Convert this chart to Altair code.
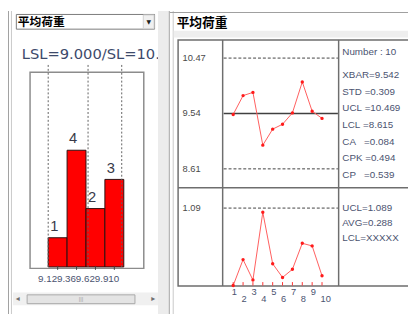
import altair as alt
import pandas as pd

# ---------------- data ----------------
panel_title = "平均荷重"
hist_title = "LSL=9.000/SL=10."
hist_bin_edges = [9.000, 9.257, 9.514, 9.771, 10.028]
hist_counts = [1, 4, 2, 3]
hist_tick_labels = ["9.12", "9.36", "9.62", "9.910"]
spec_lines = [9.000, 9.542, 10.000]          # LSL, XBAR, USL

samples = list(range(1, 11))
xbar_values = [9.526, 9.841, 9.895, 9.012, 9.280, 9.362, 9.552, 10.070, 9.580, 9.460]
r_values = [0.0, 0.365, 0.077, 1.030, 0.306, 0.114, 0.228, 0.594, 0.557, 0.137]
xbar_ucl, xbar_cl, xbar_lcl = 10.469, 9.542, 8.615
xbar_axis_values = [10.469, 9.542, 8.615]
xbar_axis_labels = ["10.47", "9.54", "8.61"]
r_ucl = 1.089
r_axis_label = "1.09"

stats_header = "Number : 10"
xbar_stats = ["XBAR=9.542", "STD =0.309", "UCL =10.469", "LCL =8.615",
              "CA   =0.084", "CPK =0.494", "CP   =0.539"]
r_stats = ["UCL=1.089", "AVG=0.288", "LCL=XXXXX"]

# ---------------- layout helpers ----------------
OX, OY = 8, 8
W, H = 408, 309


def px(x):
    return x - OX


def py(y):
    return y - OY


def lin(domain, rng):
    return alt.Scale(domain=domain, range=rng, nice=False, zero=False)


X_HIST = lin([9.0, 10.0], [px(49), px(124)])
Y_HIST = lin([0, 4], [py(269), py(150)])
X_RUN = lin([1, 10], [px(237.7), px(328.3)])
Y_XBAR = lin([xbar_lcl, xbar_ucl], [py(169), py(56)])
Y_R = lin([0, r_ucl], [py(288), py(209)])

TXT = "#4b5370"
SANS = "Liberation Sans"


def rect_layer(rows):
    df = pd.DataFrame(rows, columns=["x", "x2", "y", "y2", "fill", "stroke", "sw"])
    df["x"] = df["x"] - OX
    df["x2"] = df["x2"] - OX
    df["y"] = df["y"] - OY
    df["y2"] = df["y2"] - OY
    return alt.Chart(df).mark_rect().encode(
        x=alt.X("x:Q", scale=None, axis=None), x2="x2:Q",
        y=alt.Y("y:Q", scale=None, axis=None), y2="y2:Q",
        fill=alt.Fill("fill:N", scale=None, legend=None),
        stroke=alt.Stroke("stroke:N", scale=None, legend=None),
        strokeWidth=alt.StrokeWidth("sw:Q", scale=None, legend=None),
    )


def text_at(text, x, y, size, color="#000000", weight="normal", font=SANS,
            align="left", baseline="middle"):
    return alt.Chart(pd.DataFrame({"t": [text]})).mark_text(
        fontSize=size, color=color, fontWeight=weight, font=font,
        align=align, baseline=baseline,
    ).encode(x=alt.value(px(x)), y=alt.value(py(y)), text="t:N")


T = "transparent"
chrome_back = rect_layer([
    # left panel frame
    (8, 9, 8, 317, "#a0a0a0", T, 0),
    (11, 12, 8, 317, "#c8c8c8", T, 0),
    # dropdown
    (16.5, 157.5, 11.5, 26.5, "white", "#7a7a7a", 1),
    (146, 157, 12, 26, "#f0f0f0", "#d0d0d0", 1),
    # histogram box
    (30.5, 146.5, 70.5, 270.5, "white", "#8c8c8c", 1.5),
    # scrollbar
    (13, 161, 295, 308, "#f0f0f0", T, 0),
    (27.5, 137.5, 297.5, 306.5, "#e4e4e4", "#a8a8a8", 1),
])

chrome_front = rect_layer([
    (161, 172, 8, 317, "#ececec", T, 0),
    (172, 173, 8, 317, "#a0a0a0", T, 0),
    (176, 177, 8, 317, "#c8c8c8", T, 0),
    (173, 416, 9, 10, "#a0a0a0", T, 0),
    (177, 416, 28, 35, "#eeeeee", T, 0),
    # right box
    (181.5, 420, 37.5, 288.5, "white", "#6e6e6e", 1.5),
    (226.2, 227.7, 37.5, 288.5, "#6e6e6e", T, 0),
    (344.5, 346, 37.5, 288.5, "#6e6e6e", T, 0),
    (181.5, 416, 187.6, 189.1, "#6e6e6e", T, 0),
])

# ---------------- histogram ----------------
hist_df = pd.DataFrame({
    "start": hist_bin_edges[:-1],
    "end": hist_bin_edges[1:],
    "count": hist_counts,
    "label": hist_tick_labels,
})
hist_df["base"] = 0
hist_df["mid"] = (hist_df["start"] + hist_df["end"]) / 2

bars = alt.Chart(hist_df).mark_rect(fill="#ff0000", stroke="#2a1010", strokeWidth=1).encode(
    x=alt.X("start:Q", scale=X_HIST, axis=None), x2="end:Q",
    y=alt.Y("count:Q", scale=Y_HIST, axis=None), y2="base:Q",
)
bar_labels = alt.Chart(hist_df).mark_text(
    align="left", baseline="alphabetic", dx=2, dy=-7, fontSize=15,
    color="#383a48", font=SANS,
).encode(
    x=alt.X("start:Q", scale=X_HIST, axis=None),
    y=alt.Y("count:Q", scale=Y_HIST, axis=None),
    text="count:Q",
)
spec_df = pd.DataFrame({"v": spec_lines})
spec_rules = alt.Chart(spec_df).mark_rule(color="#606060", strokeDash=[2, 2], strokeWidth=1).encode(
    x=alt.X("v:Q", scale=X_HIST, axis=None),
    y=alt.value(py(63)), y2=alt.value(py(270)),
)
hist_ticks = alt.Chart(hist_df).mark_rule(color="#404040").encode(
    x=alt.X("mid:Q", scale=X_HIST, axis=None),
    y=alt.value(py(268)), y2=alt.value(py(272)),
)
hist_tick_text = alt.Chart(hist_df).mark_text(
    align="left", baseline="middle", dx=-20, fontSize=10, color=TXT, font=SANS,
).encode(
    x=alt.X("mid:Q", scale=X_HIST, axis=None),
    y=alt.value(py(281.5)), text="label:N",
)

# ---------------- control charts ----------------
run_df = pd.DataFrame({"sample": samples, "xbar": xbar_values, "r": r_values})
run_df["odd"] = run_df["sample"] % 2

lim_df = pd.DataFrame({"v": [xbar_ucl, xbar_lcl]})
xbar_limits = alt.Chart(lim_df).mark_rule(color="#404040", strokeDash=[3, 2]).encode(
    y=alt.Y("v:Q", scale=Y_XBAR, axis=None),
    x=alt.value(px(228)), x2=alt.value(px(344.5)),
)
xbar_center = alt.Chart(pd.DataFrame({"v": [xbar_cl]})).mark_rule(color="#404040", strokeWidth=1.5).encode(
    y=alt.Y("v:Q", scale=Y_XBAR, axis=None),
    x=alt.value(px(228)), x2=alt.value(px(344.5)),
)
xbar_line = alt.Chart(run_df).mark_line(color="#ff5c5c", strokeWidth=1).encode(
    x=alt.X("sample:Q", scale=X_RUN, axis=None),
    y=alt.Y("xbar:Q", scale=Y_XBAR, axis=None),
)
xbar_pts = alt.Chart(run_df).mark_circle(size=12, color="#ff1a1a", opacity=1).encode(
    x=alt.X("sample:Q", scale=X_RUN, axis=None),
    y=alt.Y("xbar:Q", scale=Y_XBAR, axis=None),
)
xbar_axis = alt.Chart(pd.DataFrame({"v": xbar_axis_values, "t": xbar_axis_labels})).mark_text(
    align="left", baseline="middle", fontSize=9.5, color="#4a4a4a", font=SANS,
).encode(
    y=alt.Y("v:Q", scale=Y_XBAR, axis=None),
    x=alt.value(px(186)), text="t:N",
)

r_limit = alt.Chart(pd.DataFrame({"v": [r_ucl]})).mark_rule(color="#404040", strokeDash=[3, 2]).encode(
    y=alt.Y("v:Q", scale=Y_R, axis=None),
    x=alt.value(px(228)), x2=alt.value(px(344.5)),
)
r_line = alt.Chart(run_df).mark_line(color="#ff5c5c", strokeWidth=1).encode(
    x=alt.X("sample:Q", scale=X_RUN, axis=None),
    y=alt.Y("r:Q", scale=Y_R, axis=None),
)
r_pts = alt.Chart(run_df).mark_circle(size=12, color="#ff1a1a", opacity=1).encode(
    x=alt.X("sample:Q", scale=X_RUN, axis=None),
    y=alt.Y("r:Q", scale=Y_R, axis=None),
)
r_ticks = alt.Chart(run_df).mark_rule(color="#ff3030", strokeWidth=1).encode(
    x=alt.X("sample:Q", scale=X_RUN, axis=None),
    y=alt.value(py(284.5)), y2=alt.value(py(288)),
)
r_axis = alt.Chart(pd.DataFrame({"v": [r_ucl], "t": [r_axis_label]})).mark_text(
    align="left", baseline="middle", fontSize=9.5, color="#4a4a4a", font=SANS,
).encode(
    y=alt.Y("v:Q", scale=Y_R, axis=None),
    x=alt.value(px(186)), text="t:N",
)
x_lab_odd = alt.Chart(run_df).transform_filter("datum.odd == 1").mark_text(
    align="left", baseline="middle", dx=-1.5, fontSize=9.5, color=TXT, font=SANS,
).encode(
    x=alt.X("sample:Q", scale=X_RUN, axis=None),
    y=alt.value(py(295)), text="sample:N",
)
x_lab_even = alt.Chart(run_df).transform_filter("datum.odd == 0").mark_text(
    align="left", baseline="middle", dx=-1.5, fontSize=9.5, color=TXT, font=SANS,
).encode(
    x=alt.X("sample:Q", scale=X_RUN, axis=None),
    y=alt.value(py(302)), text="sample:N",
)

# ---------------- statistics text ----------------
NB = "\u00a0"
xs_df = pd.DataFrame({"i": list(range(len(xbar_stats))),
                      "t": [s.replace(" ", NB) for s in xbar_stats]})
rs_df = pd.DataFrame({"i": list(range(len(r_stats))), "t": r_stats})
xbar_stat_text = alt.Chart(xs_df).mark_text(
    align="left", baseline="middle", fontSize=10, color=TXT, font=SANS,
).encode(
    y=alt.Y("i:Q", scale=lin([0, len(xbar_stats) - 1], [py(73.5), py(175)]), axis=None),
    x=alt.value(px(349)), text="t:N",
)
r_stat_text = alt.Chart(rs_df).mark_text(
    align="left", baseline="middle", fontSize=10, color=TXT, font=SANS,
).encode(
    y=alt.Y("i:Q", scale=lin([0, len(r_stats) - 1], [py(208.5), py(240)]), axis=None),
    x=alt.value(px(349)), text="t:N",
)

layers = [
    chrome_back,
    text_at(panel_title, 18, 19, 12, weight="bold", font="Noto Sans CJK SC"),
    text_at("▼", 151.5, 19.5, 6, color="#202020", font="DejaVu Sans", align="center"),
    text_at(hist_title, 22, 57, 15, color="#3d4a6b", font="DejaVu Sans", baseline="alphabetic"),
    text_at("◂", 18, 301.5, 8, color="#707070", font="DejaVu Sans", align="center"),
    text_at("▸", 156, 301.5, 8, color="#707070", font="DejaVu Sans", align="center"),
    text_at("|||", 82.5, 302, 6, color="#a0a0a0", align="center"),
    bars, spec_rules, hist_ticks, bar_labels, hist_tick_text,
    chrome_front,
    text_at(panel_title, 180, 20.5, 13, weight="bold", font="Noto Sans CJK SC"),
    xbar_limits, xbar_center, xbar_line, xbar_pts, xbar_axis,
    r_limit, r_line, r_ticks, r_pts, r_axis, x_lab_odd, x_lab_even,
    text_at(stats_header, 349, 50, 10, color=TXT),
    xbar_stat_text, r_stat_text,
]

chart = alt.layer(*layers).resolve_scale(
    x="independent", y="independent"
).properties(
    width=W, height=H, padding=0, autosize="none", background="white",
).configure_view(stroke=None)

chart.save("out.html", embed_options={"renderer": "svg", "actions": False})
